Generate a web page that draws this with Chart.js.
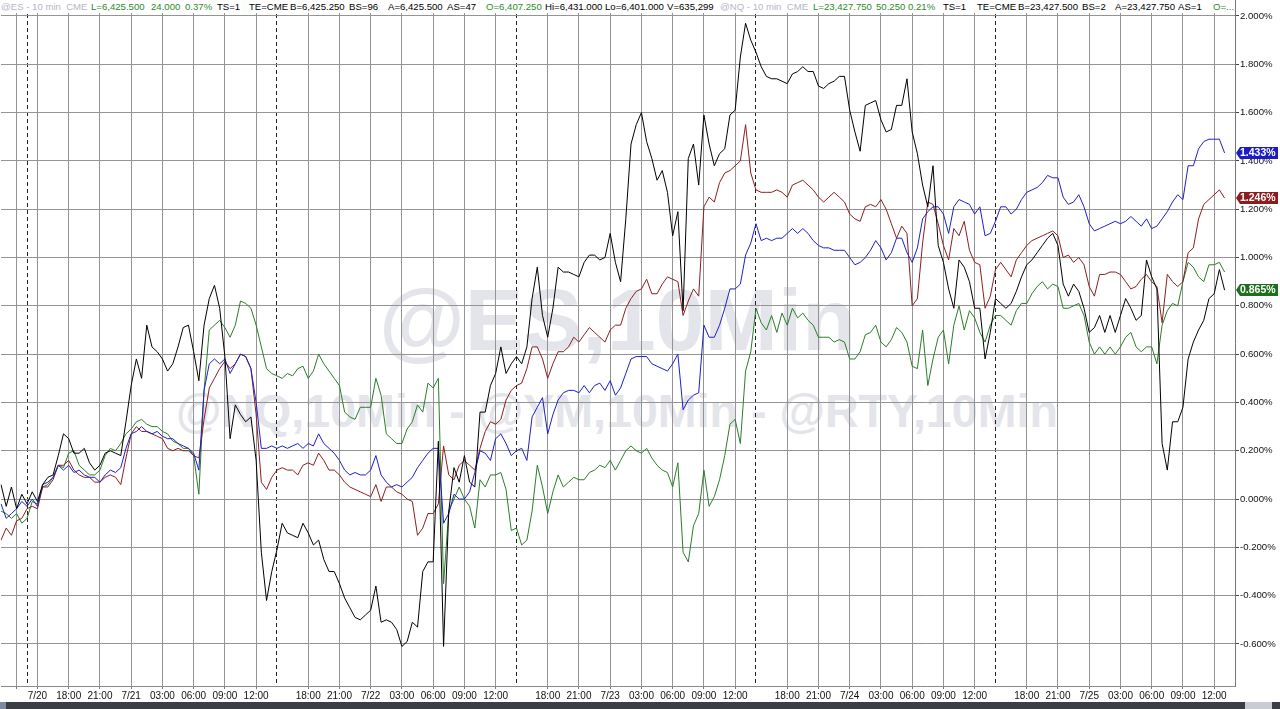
<!DOCTYPE html>
<html>
<head>
<meta charset="utf-8">
<script src="https://cdn.jsdelivr.net/npm/chart.js@4.4.1/dist/chart.umd.min.js"></script>
<style>
body { margin: 0; background: #fff; }
#wrap { position: relative; width: 1280px; height: 709px; overflow: hidden; font-family: "Liberation Sans", Arial, sans-serif; }
.wm { position: absolute; color: #e4e5ea; font-weight: bold; white-space: nowrap; line-height: 1; z-index: 0; }
#wm1 { left: 379px; top: 276px; font-size: 88px; }
#wm2 { left: 176px; top: 388px; font-size: 46.6px; }
canvas { position: absolute; left: 0; top: 0; z-index: 1; }
#hdr { position: absolute; left: 0; top: 0; width: 1234px; height: 13px; background: #fff; z-index: 2; font-size: 9.6px; line-height: 13px; white-space: nowrap; overflow: hidden; }
#hdr span { position: absolute; top: 0; }
.g { color: #b3b7c2; } .u { color: #2b8a2b; } .k { color: #000; }
#bar { position: absolute; left: 0; top: 702px; width: 1280px; height: 7px; background: #3b3e45; z-index: 2; }
#bar .l { position: absolute; left: 0; top: 0; width: 6px; height: 7px; background: #7d8aa0; }
#bar .t { position: absolute; left: 1245px; top: 0; width: 27px; height: 7px; background: #c9cdd3; }
</style>
</head>
<body>
<div id="wrap">
  <div class="wm" id="wm1">@ES,10Min</div>
  <div class="wm" id="wm2">@NQ,10Min - @YM,10Min - @RTY,10Min</div>
  <canvas id="myChart1" width="1280" height="702"></canvas>
  <div id="hdr">
    <span class="g" style="left:1px">@ES - 10 min&nbsp; CME</span>
    <span class="u" style="left:91px">L=6,425.500</span>
    <span class="u" style="left:151px">24.000</span>
    <span class="u" style="left:185px">0.37%</span>
    <span class="k" style="left:217px">TS=1</span>
    <span class="k" style="left:249px">TE=CME</span>
    <span class="k" style="left:290px">B=6,425.250</span>
    <span class="k" style="left:349px">BS=96</span>
    <span class="k" style="left:388px">A=6,425.500</span>
    <span class="k" style="left:447px">AS=47</span>
    <span class="u" style="left:486px">O=6,407.250</span>
    <span class="k" style="left:545px">Hi=6,431.000</span>
    <span class="k" style="left:605px">Lo=6,401.000</span>
    <span class="k" style="left:667px">V=635,299</span>
    <span class="g" style="left:720px">@NQ - 10 min&nbsp; CME</span>
    <span class="u" style="left:813px">L=23,427.750</span>
    <span class="u" style="left:876px">50.250</span>
    <span class="u" style="left:908px">0.21%</span>
    <span class="k" style="left:943px">TS=1</span>
    <span class="k" style="left:977px">TE=CME</span>
    <span class="k" style="left:1018px">B=23,427.500</span>
    <span class="k" style="left:1082px">BS=2</span>
    <span class="k" style="left:1115px">A=23,427.750</span>
    <span class="k" style="left:1178px">AS=1</span>
    <span class="u" style="left:1213px">O=...</span>
  </div>
  <div id="bar"><div class="l"></div><div class="t"></div></div>
</div>
<script>
// 30 min steps, trading time only (Fri close -> Sun open, daily break 14:00-15:00)
const categories = [];
const hhmm = (m) => String(Math.floor(m / 60)).padStart(2, '0') + ':' + String(m % 60).padStart(2, '0');
['10:30', '11:00', '11:30', '12:00', '12:30', '13:00', '13:30'].forEach(t => categories.push('7/18 ' + t));
const sessionDays = [['7/20', '7/21'], ['7/21', '7/22'], ['7/22', '7/23'], ['7/23', '7/24'], ['7/24', '7/25']];
for (const [d0, d1] of sessionDays) {
  for (let m = 15 * 60; m < 24 * 60; m += 30) categories.push(d0 + ' ' + hhmm(m));
  for (let m = 0; m < 14 * 60; m += 30) categories.push(d1 + ' ' + hhmm(m));
}
categories.push('7/25 14:00');

const tickAt = [
  '7/18 12:00',
  '7/20 15:00', '7/20 18:00', '7/20 21:00', '7/21 00:00', '7/21 03:00', '7/21 06:00', '7/21 09:00', '7/21 12:00',
  '7/21 18:00', '7/21 21:00', '7/22 00:00', '7/22 03:00', '7/22 06:00', '7/22 09:00', '7/22 12:00',
  '7/22 18:00', '7/22 21:00', '7/23 00:00', '7/23 03:00', '7/23 06:00', '7/23 09:00', '7/23 12:00',
  '7/23 18:00', '7/23 21:00', '7/24 00:00', '7/24 03:00', '7/24 06:00', '7/24 09:00', '7/24 12:00',
  '7/24 18:00', '7/24 21:00', '7/25 00:00', '7/25 03:00', '7/25 06:00', '7/25 09:00', '7/25 12:00'
];
const tickText = [
  '',
  '7/20', '18:00', '21:00', '7/21', '03:00', '06:00', '09:00', '12:00',
  '18:00', '21:00', '7/22', '03:00', '06:00', '09:00', '12:00',
  '18:00', '21:00', '7/23', '03:00', '06:00', '09:00', '12:00',
  '18:00', '21:00', '7/24', '03:00', '06:00', '09:00', '12:00',
  '18:00', '21:00', '7/25', '03:00', '06:00', '09:00', '12:00'
];
const sessionAt = ['7/18 13:00', '7/21 15:00', '7/22 15:00', '7/23 15:00', '7/24 15:00'];

const yTicks = [-0.6, -0.4, -0.2, 0, 0.2, 0.4, 0.6, 0.8, 1.0, 1.2, 1.4, 1.6, 1.8, 2.0];

// % change, ES (black)
const es = [
  0.06, -0.03, 0.05, -0.04, 0.02, -0.02, 0.03, -0.01,
  0.06, 0.09, 0.10, 0.18, 0.27, 0.25, 0.19, 0.19,
  0.21, 0.15, 0.12, 0.14, 0.19, 0.20, 0.19, 0.18,
  0.32, 0.47, 0.58, 0.50, 0.72, 0.63, 0.61, 0.58,
  0.53, 0.56, 0.63, 0.71, 0.72, 0.61, 0.49, 0.72,
  0.83, 0.885, 0.79, 0.59, 0.25, 0.39, 0.35, 0.32,
  0.34, 0.16, -0.22, -0.42, -0.30, -0.21, -0.10, -0.14,
  -0.15, -0.16, -0.10, -0.14, -0.19, -0.17, -0.25, -0.30,
  -0.30, -0.35, -0.41, -0.45, -0.49, -0.50, -0.48, -0.46,
  -0.36, -0.51, -0.50, -0.51, -0.54, -0.61, -0.59, -0.51,
  -0.53, -0.30, -0.26, -0.26, 0.24, -0.61, -0.05, 0.13,
  0.07, 0.18, 0.07, 0.05, 0.36, 0.36, 0.47, 0.52,
  0.63, 0.52, 0.56, 0.59, 0.56, 0.63, 0.83, 0.96,
  0.76, 0.67, 0.79, 0.96, 0.94, 0.94, 0.93, 0.92,
  0.98, 1.01, 1.01, 0.99, 1.00, 1.10, 0.98, 0.90,
  1.16, 1.47, 1.55, 1.60, 1.48, 1.41, 1.32, 1.36,
  1.27, 1.09, 1.19, 0.78, 1.41, 1.47, 1.30, 1.59,
  1.47, 1.38, 1.43, 1.45, 1.59, 1.61, 1.83, 1.97,
  1.90, 1.85, 1.79, 1.75, 1.74, 1.74, 1.73, 1.72,
  1.76, 1.77, 1.79, 1.77, 1.77, 1.71, 1.70, 1.72,
  1.73, 1.75, 1.75, 1.61, 1.52, 1.44, 1.63, 1.64,
  1.65, 1.57, 1.52, 1.53, 1.63, 1.63, 1.74, 1.52,
  1.43, 1.30, 1.21, 1.38, 1.05, 0.98, 0.87, 0.79,
  0.99, 0.96, 0.90, 0.79, 0.79, 0.58, 0.69, 0.83,
  0.81, 0.79, 0.81, 0.86, 0.92, 0.97, 0.99, 1.02,
  1.05, 1.08, 1.10, 1.05, 0.89, 0.84, 0.89, 0.86,
  0.79, 0.69, 0.71, 0.76, 0.69, 0.76, 0.69, 0.76,
  0.83, 0.79, 0.74, 0.76, 0.99, 0.92, 0.87, 0.23,
  0.12, 0.32, 0.32, 0.38, 0.58, 0.65, 0.70, 0.74,
  0.83, 0.85, 0.95, 0.865
];

// NQ (blue)
const nq = [
  -0.02, -0.08, -0.06, -0.04, -0.01, -0.03, 0.00, -0.03,
  0.06, 0.07, 0.09, 0.14, 0.12, 0.14, 0.11, 0.12,
  0.10, 0.09, 0.09, 0.07, 0.10, 0.12, 0.11, 0.13,
  0.21, 0.27, 0.28, 0.30, 0.28, 0.27, 0.28, 0.26,
  0.25, 0.25, 0.23, 0.22, 0.21, 0.19, 0.12, 0.45,
  0.56, 0.58, 0.56, 0.58, 0.52, 0.56, 0.60, 0.59,
  0.54, 0.40, 0.21, 0.21, 0.22, 0.21, 0.22, 0.21,
  0.22, 0.23, 0.21, 0.23, 0.22, 0.27, 0.23, 0.21,
  0.19, 0.16, 0.12, 0.10, 0.11, 0.10, 0.10, 0.12,
  0.18, 0.10, 0.07, 0.05, 0.06, 0.05, 0.07, 0.09,
  0.13, 0.16, 0.19, 0.21, 0.21, -0.10, -0.06, 0.02,
  0.00, 0.00, 0.03, 0.11, 0.20, 0.19, 0.16, 0.25,
  0.27, 0.23, 0.18, 0.20, 0.21, 0.16, 0.34, 0.38,
  0.42, 0.27, 0.35, 0.41, 0.44, 0.45, 0.45, 0.44,
  0.47, 0.44, 0.47, 0.48, 0.45, 0.49, 0.43, 0.46,
  0.52, 0.58, 0.59, 0.59, 0.59, 0.56, 0.55, 0.54,
  0.53, 0.56, 0.60, 0.37, 0.41, 0.43, 0.44, 0.72,
  0.67, 0.67, 0.72, 0.79, 0.87, 0.87, 0.89, 1.01,
  1.06, 1.14, 1.07, 1.08, 1.07, 1.08, 1.08, 1.10,
  1.12, 1.10, 1.12, 1.10, 1.07, 1.05, 1.04, 1.04,
  1.03, 1.03, 1.03, 1.00, 0.97, 0.98, 1.00, 1.03,
  1.07, 1.04, 0.99, 1.02, 1.08, 1.08, 1.02, 0.98,
  1.04, 1.16, 1.19, 1.21, 1.21, 1.18, 1.10, 1.21,
  1.24, 1.23, 1.22, 1.18, 1.21, 1.09, 1.10, 1.15,
  1.21, 1.21, 1.18, 1.20, 1.24, 1.27, 1.28, 1.29,
  1.31, 1.34, 1.33, 1.33, 1.25, 1.22, 1.23, 1.26,
  1.21, 1.14, 1.11, 1.12, 1.13, 1.14, 1.15, 1.14,
  1.15, 1.17, 1.15, 1.13, 1.16, 1.12, 1.13, 1.16,
  1.19, 1.23, 1.26, 1.24, 1.38, 1.38, 1.45, 1.48,
  1.49, 1.49, 1.49, 1.433
];

// YM (dark red)
const ym = [
  -0.17, -0.12, -0.15, -0.09, -0.08, -0.04, -0.03, -0.04,
  0.05, 0.05, 0.08, 0.14, 0.14, 0.16, 0.12, 0.10,
  0.09, 0.09, 0.07, 0.07, 0.09, 0.10, 0.09, 0.06,
  0.17, 0.27, 0.30, 0.28, 0.28, 0.27, 0.26, 0.25,
  0.21, 0.20, 0.21, 0.20, 0.20, 0.18, 0.17, 0.33,
  0.46, 0.50, 0.54, 0.57, 0.54, 0.56, 0.60, 0.59,
  0.54, 0.35, 0.07, 0.04, 0.09, 0.12, 0.13, 0.12,
  0.12, 0.10, 0.14, 0.15, 0.14, 0.19, 0.16, 0.12,
  0.12, 0.10, 0.07, 0.05, 0.04, 0.03, 0.02, 0.01,
  0.06, -0.01, 0.05, 0.05, 0.03, 0.02, 0.00, -0.01,
  -0.15, -0.12, -0.06, -0.06, -0.02, 0.22, 0.10, 0.08,
  0.14, 0.16, 0.14, 0.12, 0.21, 0.28, 0.32, 0.31,
  0.33, 0.41, 0.45, 0.47, 0.48, 0.54, 0.63, 0.63,
  0.58, 0.50, 0.56, 0.61, 0.61, 0.63, 0.67, 0.65,
  0.68, 0.71, 0.69, 0.67, 0.65, 0.70, 0.72, 0.72,
  0.79, 0.83, 0.86, 0.87, 0.91, 0.85, 0.85, 0.89,
  0.92, 0.91, 0.90, 0.76, 0.82, 0.87, 0.84, 1.21,
  1.25, 1.23, 1.31, 1.35, 1.36, 1.38, 1.40, 1.55,
  1.35, 1.28, 1.27, 1.27, 1.27, 1.28, 1.27, 1.25,
  1.30, 1.31, 1.32, 1.30, 1.28, 1.25, 1.23, 1.25,
  1.27, 1.25, 1.23, 1.18, 1.16, 1.15, 1.21, 1.22,
  1.21, 1.24, 1.20, 1.14, 1.08, 1.13, 1.10, 0.80,
  0.83, 1.06, 1.23, 1.22, 1.14, 1.05, 0.99, 1.12,
  1.09, 1.15, 1.03, 0.98, 0.97, 0.79, 0.84, 0.95,
  0.98, 0.95, 0.92, 0.99, 1.02, 1.05, 1.07, 1.08,
  1.09, 1.10, 1.11, 1.09, 1.00, 1.01, 0.98, 1.00,
  0.97, 0.88, 0.84, 0.93, 0.93, 0.94, 0.94, 0.93,
  0.90, 0.87, 0.88, 0.91, 0.93, 0.90, 0.88, 0.73,
  0.93, 0.90, 0.88, 0.90, 1.02, 1.04, 1.16, 1.22,
  1.24, 1.26, 1.28, 1.246
];

// RTY (green)
const rty = [
  -0.05, -0.06, -0.08, -0.06, -0.10, -0.08, -0.01, -0.02,
  0.05, 0.06, 0.09, 0.14, 0.13, 0.19, 0.20, 0.14,
  0.12, 0.10, 0.10, 0.12, 0.18, 0.21, 0.20, 0.23,
  0.27, 0.29, 0.32, 0.33, 0.31, 0.30, 0.30, 0.28,
  0.27, 0.24, 0.23, 0.21, 0.21, 0.18, 0.02, 0.45,
  0.70, 0.72, 0.74, 0.71, 0.67, 0.72, 0.82, 0.81,
  0.79, 0.72, 0.63, 0.54, 0.52, 0.51, 0.50, 0.52,
  0.51, 0.54, 0.55, 0.50, 0.53, 0.60, 0.56, 0.53,
  0.50, 0.47, 0.36, 0.34, 0.33, 0.38, 0.38, 0.38,
  0.50, 0.43, 0.27, 0.25, 0.23, 0.23, 0.29, 0.32,
  0.39, 0.36, 0.48, 0.46, 0.50, -0.35, -0.05, 0.00,
  0.05, 0.00, -0.03, -0.12, 0.08, 0.05, 0.10, 0.10,
  0.11, 0.04, -0.13, -0.12, -0.19, -0.17, -0.05, 0.14,
  0.05, -0.06, 0.03, 0.10, 0.05, 0.07, 0.09, 0.08,
  0.08, 0.11, 0.12, 0.14, 0.13, 0.16, 0.12, 0.16,
  0.20, 0.22, 0.20, 0.19, 0.21, 0.17, 0.14, 0.12,
  0.11, 0.05, 0.15, -0.22, -0.26, -0.11, -0.06, 0.12,
  -0.03, 0.01, 0.08, 0.18, 0.31, 0.33, 0.23, 0.53,
  0.61, 0.79, 0.73, 0.70, 0.76, 0.69, 0.77, 0.72,
  0.79, 0.75, 0.77, 0.74, 0.72, 0.67, 0.67, 0.67,
  0.65, 0.66, 0.65, 0.58, 0.58, 0.61, 0.68, 0.69,
  0.72, 0.65, 0.63, 0.66, 0.71, 0.69, 0.65, 0.55,
  0.54, 0.70, 0.47, 0.58, 0.67, 0.70, 0.56, 0.72,
  0.80, 0.70, 0.78, 0.75, 0.69, 0.65, 0.72, 0.76,
  0.76, 0.74, 0.72, 0.78, 0.81, 0.81, 0.85, 0.88,
  0.90, 0.87, 0.89, 0.88, 0.79, 0.79, 0.80, 0.81,
  0.76, 0.65, 0.60, 0.63, 0.60, 0.63, 0.60, 0.63,
  0.67, 0.69, 0.63, 0.61, 0.63, 0.63, 0.56, 0.72,
  0.78, 0.81, 0.80, 0.90, 0.98, 0.96, 0.92, 0.90,
  0.97, 0.97, 0.98, 0.94
];

// last-value boxes on the price axis
const lastLabels = [
  { data: nq, color: '#1c1cc4' },
  { data: ym, color: '#8e1c1c' },
  { data: es, color: '#1e6e1e' }
];

const lastValuePlugin = {
  id: 'lastValue',
  afterDraw(chart) {
    const c = chart.ctx;
    const y = chart.scales.y;
    const x0 = chart.chartArea.right + 1;
    c.save();
    c.font = 'bold 10.5px "Liberation Sans", Arial, sans-serif';
    c.textBaseline = 'middle';
    lastLabels.forEach(l => {
      const v = l.data[l.data.length - 1];
      const py = Math.round(y.getPixelForValue(v));
      c.fillStyle = l.color;
      c.beginPath();
      c.moveTo(x0, py);
      c.lineTo(x0 + 4, py - 6);
      c.lineTo(x0 + 42, py - 6);
      c.lineTo(x0 + 42, py + 6);
      c.lineTo(x0 + 4, py + 6);
      c.closePath();
      c.fill();
      c.fillStyle = '#fff';
      c.fillText(v.toFixed(3) + '%', x0 + 4, py + 0.5);
    });
    c.restore();
  }
};

Chart.defaults.font.family = '"Liberation Sans", Arial, sans-serif';
Chart.defaults.font.size = 10;

const ctx = document.getElementById('myChart1');

new Chart(ctx, {
  type: 'line',
  data: {
    labels: categories,
    datasets: [
      { label: '@ES', data: es, borderColor: '#000000' },
      { label: '@NQ', data: nq, borderColor: '#1f1fc8' },
      { label: '@YM', data: ym, borderColor: '#8b1f1f' },
      { label: '@RTY', data: rty, borderColor: '#2a7d2a' }
    ]
  },
  options: {
    responsive: false,
    animation: false,
    layout: { padding: { left: 1, right: 0, top: 0, bottom: 0 } },
    elements: { point: { radius: 0 }, line: { borderWidth: 1, tension: 0 } },
    plugins: { legend: { display: false }, tooltip: { enabled: false } },
    scales: {
      x: {
        type: 'category',
        grid: {
          color: (c) => tickAt.includes(categories[c.index]) ? '#949494' : 'rgba(0,0,0,0)',
          tickColor: (c) => tickAt.includes(categories[c.index]) ? '#777' : 'rgba(0,0,0,0)',
          tickLength: 3
        },
        border: { color: '#8a8a8a' },
        ticks: {
          autoSkip: false, maxRotation: 0, minRotation: 0, padding: 1, color: '#111',
          font: { size: 10 },
          callback: (v, i) => {
            const k = tickAt.indexOf(categories[i]);
            return k >= 0 ? tickText[k] : '';
          }
        },
        afterFit: (s) => { s.height = 16; }
      },
      x2: {
        type: 'category',
        position: 'top',
        grid: {
          color: (c) => sessionAt.includes(categories[c.index]) ? '#222' : 'rgba(0,0,0,0)',
          drawTicks: false
        },
        border: { display: false, dash: [4, 3] },
        ticks: { display: false },
        afterFit: (s) => { s.height = 0; }
      },
      y: {
        position: 'right',
        min: -0.7739,
        max: 2.0662,
        afterBuildTicks: (s) => { s.ticks = yTicks.map(v => ({ value: v })); },
        grid: { color: '#949494', tickColor: '#444', tickLength: 4 },
        border: { color: '#777' },
        ticks: { padding: 1, color: '#111', font: { size: 9.6 }, callback: (v) => Number(v).toFixed(3) + '%' },
        afterFit: (s) => { s.width = 45; s.paddingTop = 0; s.paddingBottom = 0; }
      }
    }
  },
  plugins: [lastValuePlugin]
});
</script>
</body>
</html>
